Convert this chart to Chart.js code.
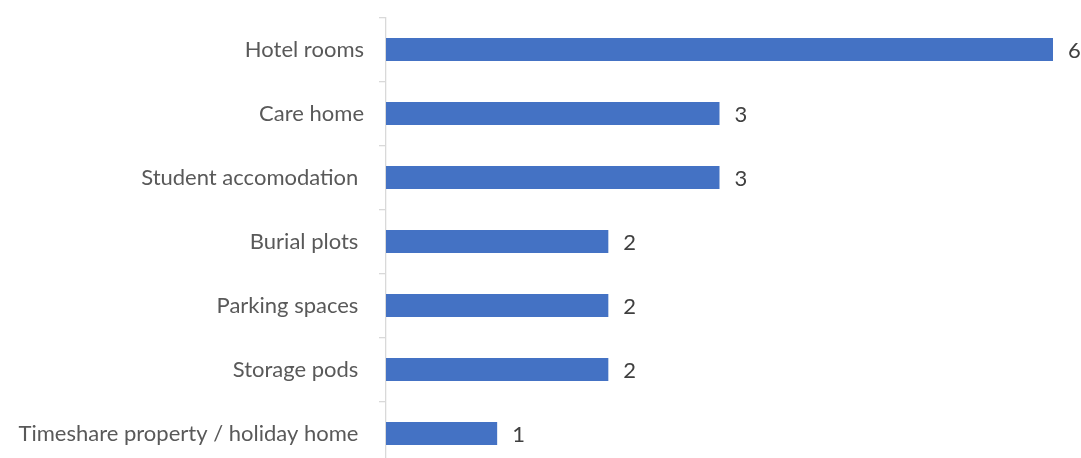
<!DOCTYPE html>
<html>
<head>
<meta charset="utf-8">
<script src="https://cdn.jsdelivr.net/npm/chart.js@4/dist/chart.umd.min.js"></script>
<style>
  html, body { margin: 0; padding: 0; background: #fff; overflow: hidden; }
  #wrap { position: relative; width: 1081px; height: 466px; }
</style>
</head>
<body>
<div id="wrap"><canvas id="chart"></canvas></div>
<script>
// categories (trailing spaces kept as in the source sheet)
const categories = [
    'Hotel rooms',
    'Care home',
    'Student accomodation ',
    'Burial plots ',
    'Parking spaces ',
    'Storage pods ',
    'Timeshare property / holiday home '
];
const counts = [6, 3, 3, 2, 2, 2, 1];

const FONT = "Lato, 'Open Sans', sans-serif";
const AXIS_GREY = '#d9d9d9';

// value labels drawn just past the end of each bar
const barValueLabels = {
    id: 'barValueLabels',
    afterDatasetsDraw(chart) {
        const { ctx } = chart;
        const meta = chart.getDatasetMeta(0);
        ctx.save();
        ctx.font = '22px ' + FONT;
        ctx.fillStyle = '#404040';
        ctx.textAlign = 'left';
        ctx.textBaseline = 'middle';
        meta.data.forEach((bar, i) => {
            ctx.fillText(String(counts[i]), bar.x + 15, bar.y + 1);
        });
        ctx.restore();
    }
};

new Chart(document.getElementById('chart'), {
    type: 'bar',
    data: {
        labels: categories,
        datasets: [{
            data: counts,
            backgroundColor: '#4472c4',
            borderWidth: 0,
            categoryPercentage: 1,
            barPercentage: 0.36
        }]
    },
    options: {
        indexAxis: 'y',
        responsive: true,
        maintainAspectRatio: false,
        animation: false,
        layout: { padding: { left: 0, right: 28, top: 17.5, bottom: 0.5 } },
        plugins: { legend: { display: false }, tooltip: { enabled: false } },
        scales: {
            x: { display: false, min: 0, max: 6 },
            y: {
                afterFit(scale) {
                    scale.width = 386;
                    scale.paddingTop = 0;
                    scale.paddingBottom = 0;
                },
                grid: { drawOnChartArea: false, drawTicks: true, tickLength: 7, color: AXIS_GREY, lineWidth: 1.3 },
                border: { color: AXIS_GREY, width: 1.3 },
                ticks: { padding: 15, color: '#595959', font: { family: FONT, size: 22 } }
            }
        }
    },
    plugins: [barValueLabels]
});
</script>
</body>
</html>
